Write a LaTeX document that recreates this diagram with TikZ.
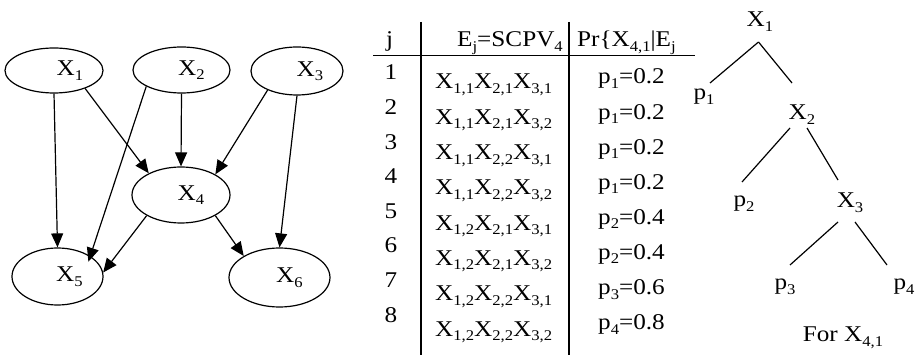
\documentclass[tikz,border=0pt]{standalone}
\usepackage{fontspec}
\setmainfont{Liberation Serif}[FakeStretch=1.12]
\usepackage{graphicx}
\usetikzlibrary{arrows.meta,shapes.geometric}
\newcommand{\sbx}[1]{\raisebox{-0.2em}{\scalebox{0.66}{#1}}}
\newcommand{\xr}[3]{X\sbx{1,#1}X\sbx{2,#2}X\sbx{3,#3}}
\begin{document}
\begin{tikzpicture}[x=1pt,y=-1pt,font=\fontsize{22.5}{26}\selectfont,
  ell/.style={ellipse,draw,line width=1.2pt,inner sep=0pt},
  lbl/.style={inner sep=0pt},
  arr/.style={line width=1.2pt,-{Triangle[length=14pt,width=12pt]}},
  tl/.style={line width=1.2pt},
  rule/.style={line width=1.6pt},
  txt/.style={inner sep=0pt,anchor=base}]
\useasboundingbox (0,0) rectangle (919,355);
% graph
\node[ell,minimum width=98pt,minimum height=45pt,label={[lbl,xshift=16pt]center:X\sbx{1}}] (x1) at (54,70.5) {};
\node[ell,minimum width=97pt,minimum height=46pt,label={[lbl,xshift=10pt]center:X\sbx{2}}] (x2) at (181.5,70) {};
\node[ell,minimum width=92pt,minimum height=48pt,label={[lbl,xshift=13pt]center:X\sbx{3}}] (x3) at (297,71) {};
\node[ell,minimum width=98pt,minimum height=56pt,label={[lbl,xshift=10pt]center:X\sbx{4}}] (x4) at (181,195) {};
\node[ell,minimum width=91pt,minimum height=57pt,label={[lbl,xshift=12pt]center:X\sbx{5}}] (x5) at (57.5,276.5) {};
\node[ell,minimum width=101pt,minimum height=59pt,label={[lbl,xshift=10pt]center:X\sbx{6}}] (x6) at (279.5,277.5) {};
\draw[arr] (x1.south) -- (x5.north);
\draw[arr] (x1.-30) -- (x4.146);
\draw[arr,shorten >=-6pt] (x2.205) -- (x5.32);
\draw[arr] (x2.south) -- (x4.north);
\draw[arr] (x3.213) -- (x4.31);
\draw[arr] (x3.south) -- (x6.north);
\draw[arr] (x4.211) -- (x5.5);
\draw[arr] (x4.-31) -- (x6.149);
% table
\draw[rule] (373,55.7) -- (695,55.7);
\draw[rule] (421,22) -- (421,355);
\draw[rule] (569,22) -- (569,355);
\node[txt] (h0) at (389.5,47) {j};
\node[txt,anchor=base east] (h1) at (563,47) {E\sbx{j}=SCPV\sbx{4}};
\node[txt,anchor=base west] (h2) at (577,47) {Pr\{X\sbx{4,1}|E\sbx{j}};
\foreach \i/\a/\b/\c in {1/1/1/1,2/1/1/2,3/1/2/1,4/1/2/2,5/2/1/1,6/2/1/2,7/2/2/1,8/2/2/2}{
  \node[txt] (n\i) at (391,{80+34.6*(\i-1)}) {\i};
  \node[txt,anchor=base west] (e\i) at (435,{89+35.3*(\i-1)}) {\xr{\a}{\b}{\c}};
}
\foreach \i/\k/\v in {1/1/0.2,2/1/0.2,3/1/0.2,4/1/0.2,5/2/0.4,6/2/0.4,7/3/0.6,8/4/0.8}{
  \node[txt,anchor=base west] (q\i) at (598,{84+35.1*(\i-1)}) {p\sbx{\k}=\v};
}
% tree
\node[txt] (t1) at (760,27) {X\sbx{1}};
\node[txt] (tp1) at (704,100) {p\sbx{1}};
\node[txt] (t2) at (802,120) {X\sbx{2}};
\node[txt] (tp2) at (744,207) {p\sbx{2}};
\node[txt] (t3) at (850,208) {X\sbx{3}};
\node[txt] (tp3) at (785,290) {p\sbx{3}};
\node[txt] (tp4) at (904,290) {p\sbx{4}};
\node[txt] (cap) at (843,342) {For X\sbx{4,1}};
\coordinate (a1) at (758.5,42);
\coordinate (a2) at (710,83);
\coordinate (a3) at (792,83);
\coordinate (b1) at (790,128);
\coordinate (b2) at (742,182);
\coordinate (b3) at (807,128);
\coordinate (b4) at (838,180);
\coordinate (d1) at (838,222);
\coordinate (d2) at (790,265);
\coordinate (d3) at (855,222);
\coordinate (d4) at (887,265);
\draw[tl] (a1) -- (a2);
\draw[tl] (a1) -- (a3);
\draw[tl] (b1) -- (b2);
\draw[tl] (b3) -- (b4);
\draw[tl] (d1) -- (d2);
\draw[tl] (d3) -- (d4);
\end{tikzpicture}
\end{document}
